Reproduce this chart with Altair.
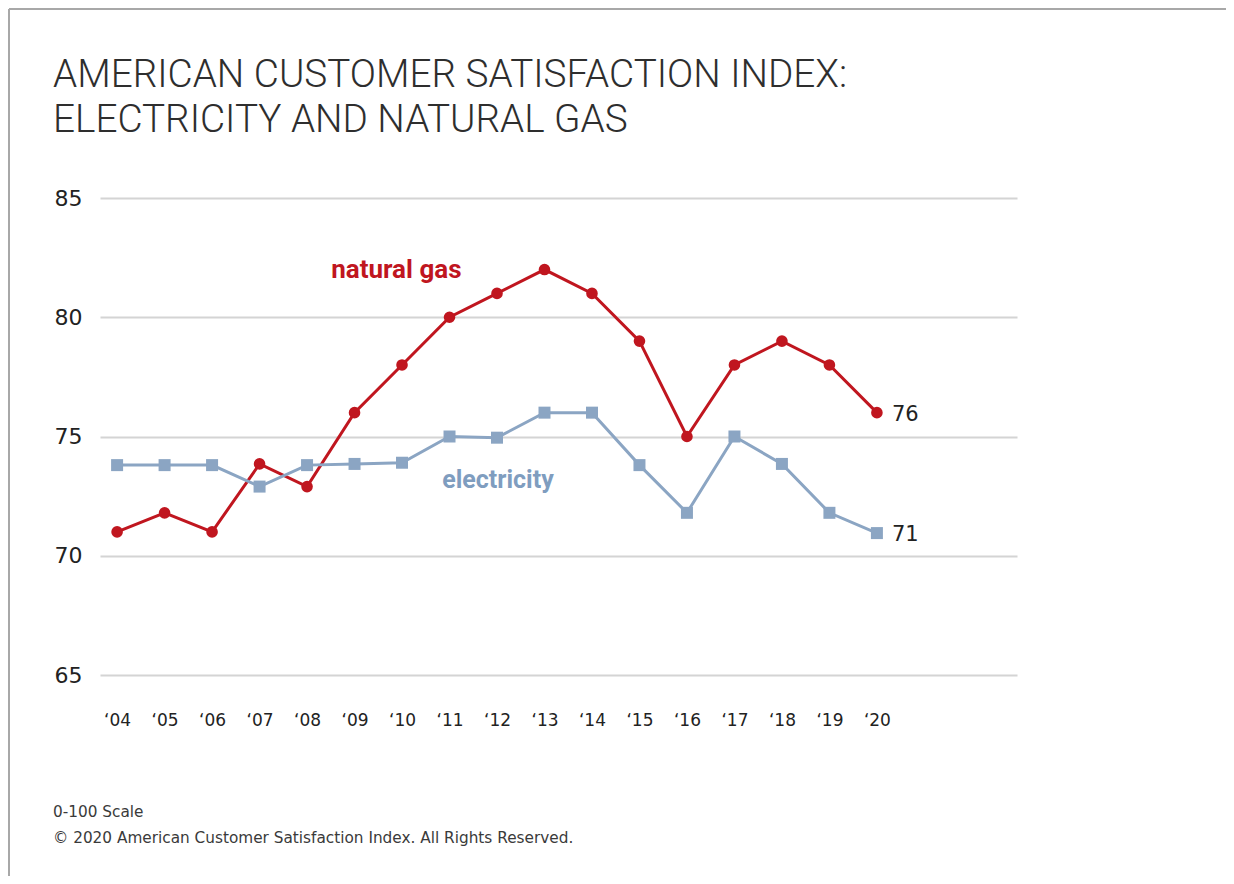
import altair as alt
import pandas as pd

# ---- data ----
years = list(range(2004, 2021))
year_labels = ["\u201804", "\u201805", "\u201806", "\u201807", "\u201808", "\u201809", "\u201810",
               "\u201811", "\u201812", "\u201813", "\u201814", "\u201815", "\u201816", "\u201817",
               "\u201818", "\u201819", "\u201820"]
natural_gas = [71, 71.8, 71, 73.85, 72.9, 76, 78, 80, 81, 82, 81, 79, 75, 78, 79, 78, 76]
electricity = [73.8, 73.8, 73.8, 72.9, 73.8, 73.85, 73.9, 75, 74.95, 76, 76, 73.8, 71.8, 75, 73.85, 71.8, 70.95]
series_names = ["natural gas", "electricity"]
series_colors = ["#c0161f", "#8ba5c3"]
y_ticks = [65, 70, 75, 80, 85]

title_lines = ["AMERICAN CUSTOMER SATISFACTION INDEX:", "ELECTRICITY AND NATURAL GAS"]
footer_lines = ["0-100 Scale", "\u00a9 2020 American Customer Satisfaction Index. All Rights Reserved."]

df = pd.DataFrame({
    "year": years * 2,
    "value": natural_gas + electricity,
    "series": [series_names[0]] * len(years) + [series_names[1]] * len(years),
})
last = df[df["year"] == years[-1]]
one = pd.DataFrame({"k": [0]})

label_js = "[" + ",".join("'" + s + "'" for s in year_labels) + "]"

x = alt.X("year:Q",
          scale=alt.Scale(domain=[2003.64, 2022.95], nice=False, zero=False),
          axis=alt.Axis(values=years, labelExpr=label_js + "[datum.value - 2004]",
                        grid=False, ticks=False, domain=False, title=None,
                        labelFont="DejaVu Sans", labelFontSize=17, labelColor="#222222",
                        labelPadding=37))
y = alt.Y("value:Q",
          scale=alt.Scale(domain=[65, 85], nice=False, zero=False),
          axis=alt.Axis(values=y_ticks, grid=True, gridColor="#d4d4d4", gridWidth=2,
                        ticks=False, domain=False, title=None,
                        labelFont="DejaVu Sans", labelFontSize=22, labelColor="#222222",
                        labelPadding=18))
color = alt.Color("series:N", scale=alt.Scale(domain=series_names, range=series_colors), legend=None)

base = alt.Chart(df)

lines = base.mark_line(strokeWidth=3).encode(x=x, y=y, color=color)
points = base.mark_point(filled=True, opacity=1).encode(
    x=x, y=y, color=color,
    shape=alt.Shape("series:N", scale=alt.Scale(domain=series_names, range=["circle", "square"]), legend=None),
    size=alt.Size("series:N", scale=alt.Scale(domain=series_names, range=[135, 144]), legend=None),
)
end_labels = alt.Chart(last).mark_text(align="left", baseline="middle", dx=15, dy=2,
                                       font="DejaVu Sans", fontSize=21, color="#222222").encode(
    x=x, y=y, text=alt.Text("value:Q", format=".0f"))

gas_label = alt.Chart(one).mark_text(font="Roboto", fontWeight="bold", fontSize=26,
                                     color=series_colors[0], align="center", baseline="alphabetic").encode(
    x=alt.datum(2009.88), y=alt.datum(81.66), text=alt.value(series_names[0]))
elec_label = alt.Chart(one).mark_text(font="Roboto", fontWeight="bold", fontSize=25,
                                      color="#7f9dbf", align="center", baseline="alphabetic").encode(
    x=alt.datum(2012.02), y=alt.datum(72.85), text=alt.value(series_names[1]))

def fixed_text(txt, px, py, size, weight, color, font="Roboto"):
    return alt.Chart(one).mark_text(font=font, fontSize=size, fontWeight=weight, color=color,
                                    align="left", baseline="alphabetic").encode(
        x=alt.value(px), y=alt.value(py), text=alt.value(txt))

title1 = fixed_text(title_lines[0], -47, -111, 38.7, 300, "#2e2e2e")
title2 = fixed_text(title_lines[1], -47, -66, 38.7, 300, "#2e2e2e")
foot1 = fixed_text(footer_lines[0], -47, 619, 15.3, "normal", "#3a3a3a", font="DejaVu Sans")
foot2 = fixed_text(footer_lines[1], -47, 645, 15.3, "normal", "#3a3a3a", font="DejaVu Sans")

frame_top = alt.Chart(one).mark_rule(color="#a8a8a8", strokeWidth=2).encode(
    x=alt.value(-91), x2=alt.value(1130), y=alt.value(-189))
frame_left = alt.Chart(one).mark_rule(color="#a8a8a8", strokeWidth=2).encode(
    x=alt.value(-91), y=alt.value(-189), y2=alt.value(680))

chart = alt.layer(
    frame_top, frame_left, lines, points, end_labels, gas_label, elec_label,
    title1, title2, foot1, foot2,
).properties(
    width=917, height=477,
    background="white",
    autosize=alt.AutoSizeParams(type="none"),
    padding={"left": 92, "top": 190, "right": 209, "bottom": 201},
).configure_view(strokeWidth=0, stroke="transparent")

chart.save("out.html", embed_options={"renderer": "svg", "actions": False})
